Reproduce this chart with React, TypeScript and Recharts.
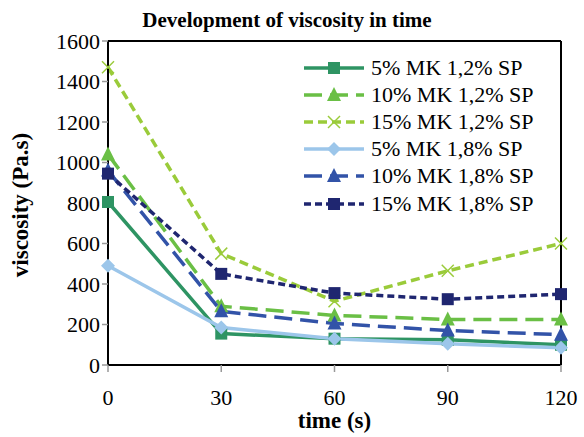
import React from "react";
import { LineChart, Line, XAxis, YAxis, ReferenceLine } from "recharts";

const times = [0, 30, 60, 90, 120];
const mk5sp12 = [805, 155, 130, 125, 100];
const mk10sp12 = [1040, 290, 245, 225, 225];
const mk15sp12 = [1470, 550, 315, 465, 600];
const mk5sp18 = [490, 185, 130, 105, 85];
const mk10sp18 = [960, 265, 205, 170, 150];
const mk15sp18 = [945, 450, 355, 325, 350];
const yTicks = [0, 200, 400, 600, 800, 1000, 1200, 1400, 1600];

type Shape = "square" | "triangle" | "cross" | "diamond";

const series: { key: string; name: string; color: string; dash?: string; shape: Shape; values: number[] }[] = [
  { key: "a", name: "5% MK 1,2% SP", color: "#2e9463", shape: "square", values: mk5sp12 },
  { key: "b", name: "10% MK 1,2% SP", color: "#6abf45", dash: "18 8", shape: "triangle", values: mk10sp12 },
  { key: "c", name: "15% MK 1,2% SP", color: "#9acb3a", dash: "9 5", shape: "cross", values: mk15sp12 },
  { key: "d", name: "5% MK 1,8% SP", color: "#9cc6ea", shape: "diamond", values: mk5sp18 },
  { key: "e", name: "10% MK 1,8% SP", color: "#3253a8", dash: "18 8", shape: "triangle", values: mk10sp18 },
  { key: "f", name: "15% MK 1,8% SP", color: "#1f2670", dash: "7 4", shape: "square", values: mk15sp18 },
];

const data = times.map((t, i) => {
  const row: Record<string, number> = { t };
  series.forEach((s) => (row[s.key] = s.values[i]));
  return row;
});

function Marker({ cx, cy, shape, color }: { cx: number; cy: number; shape: Shape; color: string }) {
  if (shape === "square") return <rect x={cx - 6} y={cy - 6} width={12} height={12} fill={color} />;
  if (shape === "triangle")
    return <polygon points={`${cx},${cy - 8} ${cx + 7},${cy + 6} ${cx - 7},${cy + 6}`} fill={color} />;
  if (shape === "diamond")
    return <polygon points={`${cx},${cy - 7} ${cx + 7},${cy} ${cx},${cy + 7} ${cx - 7},${cy}`} fill={color} />;
  return (
    <g stroke={color} strokeWidth={1.5}>
      <line x1={cx - 6} y1={cy - 6} x2={cx + 6} y2={cy + 6} />
      <line x1={cx - 6} y1={cy + 6} x2={cx + 6} y2={cy - 6} />
    </g>
  );
}

const font = "'Liberation Serif', 'Times New Roman', serif";

export default function App() {
  return (
    <div style={{ position: "absolute", left: 0, top: 0, width: 584, height: 437, background: "#fff", fontFamily: font }}>
      <LineChart width={584} height={437} data={data} margin={{ top: 41, right: 23, bottom: 42, left: 48 }}>
        <XAxis
          dataKey="t"
          type="number"
          domain={[0, 120]}
          ticks={times}
          height={30}
          stroke="#000"
          strokeWidth={2}
          tickSize={7}
          tickLine={{ stroke: "#999", strokeWidth: 1.5 }}
          tickMargin={17}
          tick={{ fill: "#000", fontSize: 22, fontFamily: font }}
        />
        <YAxis
          type="number"
          domain={[0, 1600]}
          ticks={yTicks}
          width={60}
          stroke="#000"
          strokeWidth={2}
          tickSize={6}
          tickLine={{ stroke: "#999", strokeWidth: 1.5 }}
          tickMargin={2}
          tick={{ fill: "#000", fontSize: 22, fontFamily: font }}
        />
        <ReferenceLine y={1600} stroke="#000" strokeWidth={2} />
        <ReferenceLine x={120} stroke="#000" strokeWidth={2} />
        {series.map((s) => (
          <Line
            key={s.key}
            dataKey={s.key}
            name={s.name}
            stroke={s.color}
            strokeWidth={3.5}
            strokeDasharray={s.dash}
            isAnimationActive={false}
            dot={(p: any) => <Marker key={`${s.key}-${p.index}`} cx={p.cx} cy={p.cy} shape={s.shape} color={s.color} />}
            activeDot={false}
          />
        ))}
      </LineChart>
      <div style={{ position: "absolute", left: 0, top: 8, width: 574, textAlign: "center", fontWeight: "bold", fontSize: 21, lineHeight: "24px" }}>
        Development of viscosity in time
      </div>
      <div style={{ position: "absolute", left: 108, top: 408, width: 453, textAlign: "center", fontWeight: "bold", fontSize: 23, lineHeight: "26px" }}>
        time (s)
      </div>
      <div
        style={{
          position: "absolute",
          left: 21,
          top: 205,
          transform: "translate(-50%, -50%) rotate(-90deg)",
          whiteSpace: "nowrap",
          fontWeight: "bold",
          fontSize: 23,
        }}
      >
        viscosity (Pa.s)
      </div>
      <div style={{ position: "absolute", left: 303, top: 54 }}>
        {series.map((s) => (
          <div key={s.key} style={{ display: "flex", alignItems: "center", height: 27.2 }}>
            <svg width={62} height={20}>
              <line x1={1} y1={10} x2={61} y2={10} stroke={s.color} strokeWidth={3.5} strokeDasharray={s.dash} />
              <Marker cx={31} cy={10} shape={s.shape} color={s.color} />
            </svg>
            <span style={{ marginLeft: 6, fontSize: 22, lineHeight: "22px" }}>{s.name}</span>
          </div>
        ))}
      </div>
    </div>
  );
}
